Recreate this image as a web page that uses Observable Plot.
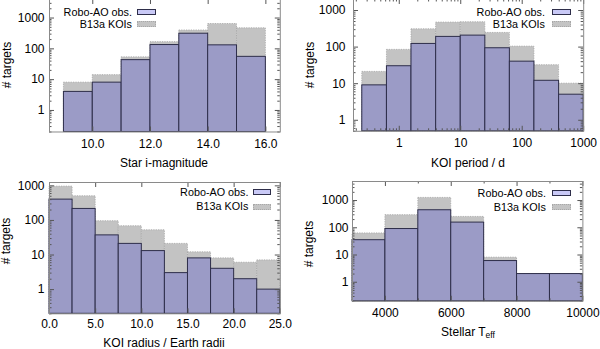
<!DOCTYPE html>
<html>
<head>
<meta charset="utf-8">
<script src="https://cdn.jsdelivr.net/npm/d3@7"></script>
<script src="https://cdn.jsdelivr.net/npm/@observablehq/plot@0.6"></script>
<style>
  html, body { margin: 0; padding: 0; background: #fff; }
  #root { position: relative; width: 600px; height: 349px; overflow: hidden;
          font-family: "Liberation Sans", Arial, Helvetica, sans-serif; color: #000; }
  .panel { position: absolute; }
  .lbl { position: absolute; font-size: 12px; white-space: nowrap; transform: translate(-50%, -50%); line-height: 1; }
  .ylbl { position: absolute; font-size: 12px; white-space: nowrap; transform: translate(-50%, -50%) rotate(-90deg); line-height: 1; }
  .lbl sub { font-size: 8.5px; vertical-align: -2px; }
  .legtxt { position: absolute; font-size: 10.8px; white-space: nowrap; transform: translate(-100%, -50%); line-height: 1; }
  .sw { position: absolute; box-sizing: border-box; }
  .sw.robo { background: #c9c9f6; border: 1px solid #2e2e4a; }
  .sw.b13a { background: #c4c4c4; border: 1px dotted #a8a8a8; }
</style>
</head>
<body>
<div id="root"></div>
<script>
// ---------- data ----------
const seriesNames = ["Robo-AO obs.", "B13a KOIs"];

const magEdges = [9, 10, 11, 12, 13, 14, 15, 16];
const magRobo  = [4, 8, 43, 133, 310, 130, 55];
const magB13a  = [8, 14, 53, 165, 395, 640, 465];
const magTicks = [10, 12, 14, 16];

const perEdges = [0.25, 0.63, 1.58, 3.98, 10, 25.1, 63, 158, 398, 1000];
const perRobo  = [9, 30, 122, 190, 206, 93, 40, 12, 5];
const perB13a  = [21, 84, 307, 468, 478, 244, 103, 32, 10];
const perTicks = [1, 10, 100, 1000];

const radEdges = [0, 2.5, 5, 7.5, 10, 12.5, 15, 17.5, 20, 22.5, 25];
const radRobo  = [400, 215, 37, 21, 13, 3, 8, 4, 2, 1];
const radB13a  = [950, 500, 95, 68, 52, 21, 12, 8, 6, 7];
const radTicks = [0, 5, 10, 15, 20, 25];

const teffEdges = [3000, 4000, 5000, 6000, 7000, 8000, 9000, 10000];
const teffRobo  = [35, 90, 440, 155, 6, 2, 2];
const teffB13a  = [62, 290, 1250, 250, 8, 2, 2];
const teffTicks = [4000, 6000, 8000, 10000];
const teffMinor = [3000, 5000, 7000, 9000];

const yTicks = [1, 10, 100, 1000];

const xTitles = ["Star i-magnitude", "KOI period / d", "KOI radius / Earth radii", "Stellar T<sub>eff</sub>"];
const yTitle = "# targets";

// ---------- drawing ----------
const root = document.getElementById("root");
const FONT = '"Liberation Sans", Arial, Helvetica, sans-serif';

function panel(cfg) {
  const {edges, robo, b13a, frame, xType, xDomain, yDomain, xTicks, xFormat, xMinor, xPad, yPad} = cfg;
  const [fx0, fy0, fx1, fy1] = frame;
  const mL = 48, mR = 14, mT = 4, mB = 24;
  const fw = fx1 - fx0, fh = fy1 - fy0;
  const bins = robo.map((r, i) => ({x1: edges[i], x2: edges[i + 1], robo: r, b13a: b13a[i]}));
  const yMinor = d3.scaleLog().domain(yDomain).ticks().filter(v => !yTicks.includes(v));
  const tickCol = "#555";
  const MJ = 5, MN = 2.5;
  const marks = [
    Plot.rect(bins, {x1: "x1", x2: "x2", y1: () => yDomain[0], y2: "b13a",
      fill: "#c3c3c3", stroke: "#a4a4a4", strokeWidth: 0.8, strokeDasharray: "1.2,1.2"}),
    Plot.rect(bins, {x1: "x1", x2: "x2", y1: () => yDomain[0], y2: "robo",
      fill: "#9b9bc6", stroke: "#2e2e4a", strokeWidth: 1}),
    // inward ticks, mirrored on all sides
    Plot.tickX(xTicks, {x: d => d, insetTop: fh - MJ, stroke: tickCol}),
    Plot.tickX(xTicks, {x: d => d, insetBottom: fh - MJ, stroke: tickCol}),
    Plot.tickX(xMinor, {x: d => d, insetTop: fh - MN, stroke: tickCol}),
    Plot.tickX(xMinor, {x: d => d, insetBottom: fh - MN, stroke: tickCol}),
    Plot.tickY(yTicks, {y: d => d, insetRight: fw - MJ, stroke: tickCol}),
    Plot.tickY(yTicks, {y: d => d, insetLeft: fw - MJ, stroke: tickCol}),
    Plot.tickY(yMinor, {y: d => d, insetRight: fw - MN, stroke: tickCol}),
    Plot.tickY(yMinor, {y: d => d, insetLeft: fw - MN, stroke: tickCol}),
    Plot.frame({stroke: "#8a8a8a"})
  ];
  const svg = Plot.plot({
    width: mL + fw + mR, height: mT + fh + mB,
    marginLeft: mL, marginRight: mR, marginTop: mT, marginBottom: mB,
    x: {type: xType, domain: xDomain, ticks: xTicks, tickFormat: xFormat, tickSize: 0, tickPadding: xPad, label: null},
    y: {type: "log", domain: yDomain, ticks: yTicks, tickFormat: d => String(d), tickSize: 0, tickPadding: yPad, label: null},
    style: {fontFamily: FONT, fontSize: "12px", color: "#000", background: "transparent", overflow: "visible"},
    marks
  });
  svg.classList.add("panel");
  svg.style.left = (fx0 - mL) + "px";
  svg.style.top = (fy0 - mT) + "px";
  root.appendChild(svg);
}

function html(cls, x, y, content, extra) {
  const d = document.createElement("div");
  d.className = cls;
  d.style.left = x + "px";
  d.style.top = y + "px";
  if (extra) Object.assign(d.style, extra);
  d.innerHTML = content;
  root.appendChild(d);
}

function legend(textRight, yRobo, yB13a, swX0, swX1) {
  html("legtxt", textRight, yRobo, seriesNames[0]);
  html("legtxt", textRight, yB13a, seriesNames[1]);
  html("sw robo", swX0, yRobo - 2.8, "", {width: (swX1 - swX0) + "px", height: "6px"});
  html("sw b13a", swX0, yB13a - 2.8, "", {width: (swX1 - swX0) + "px", height: "6px"});
}

// Panel 1: star i-magnitude
panel({edges: magEdges, robo: magRobo, b13a: magB13a, frame: [48.5, -1.5, 279.3, 131],
  xType: "linear", xDomain: [8.5, 16.5], yDomain: [0.2, 4000],
  xTicks: magTicks, xFormat: d => d.toFixed(1), xMinor: [], xPad: 7, yPad: 5});
// Panel 2: KOI period
panel({edges: perEdges, robo: perRobo, b13a: perB13a, frame: [352.5, -0.8, 582.7, 131],
  xType: "log", xDomain: [0.18, 1000], yDomain: [0.5, 2000],
  xTicks: perTicks, xFormat: d => String(d),
  xMinor: d3.scaleLog().domain([0.18, 1000]).ticks().filter(v => !perTicks.includes(v)),
  xPad: 7, yPad: 8});
// Panel 3: KOI radius
panel({edges: radEdges, robo: radRobo, b13a: radB13a, frame: [48.5, 181.7, 279.3, 313],
  xType: "linear", xDomain: [0, 25], yDomain: [0.2, 1250],
  xTicks: radTicks, xFormat: d => d.toFixed(1), xMinor: [], xPad: 6, yPad: 5});
// Panel 4: stellar Teff
panel({edges: teffEdges, robo: teffRobo, b13a: teffB13a, frame: [352.3, 180.5, 582.7, 300.3],
  xType: "linear", xDomain: [3000, 10000], yDomain: [0.2, 5000],
  xTicks: teffTicks, xFormat: d => String(d), xMinor: teffMinor, xPad: 7, yPad: 4});

// axis titles
html("lbl", 164, 163, xTitles[0]);
html("lbl", 468, 163, xTitles[1]);
html("lbl", 164, 343, xTitles[2]);
html("lbl", 468, 333, xTitles[3]);
html("ylbl", 7, 65, yTitle);
html("ylbl", 310, 65, yTitle);
html("ylbl", 6, 241, yTitle);
html("ylbl", 309, 244, yTitle);

// legends
legend(132, 11.7, 24, 137, 155.5);
legend(545, 11.7, 24, 552.3, 570.7);
legend(248.5, 191.7, 206.3, 253.3, 270.7);
legend(546, 193, 206.5, 552.3, 570.7);
</script>
</body>
</html>
